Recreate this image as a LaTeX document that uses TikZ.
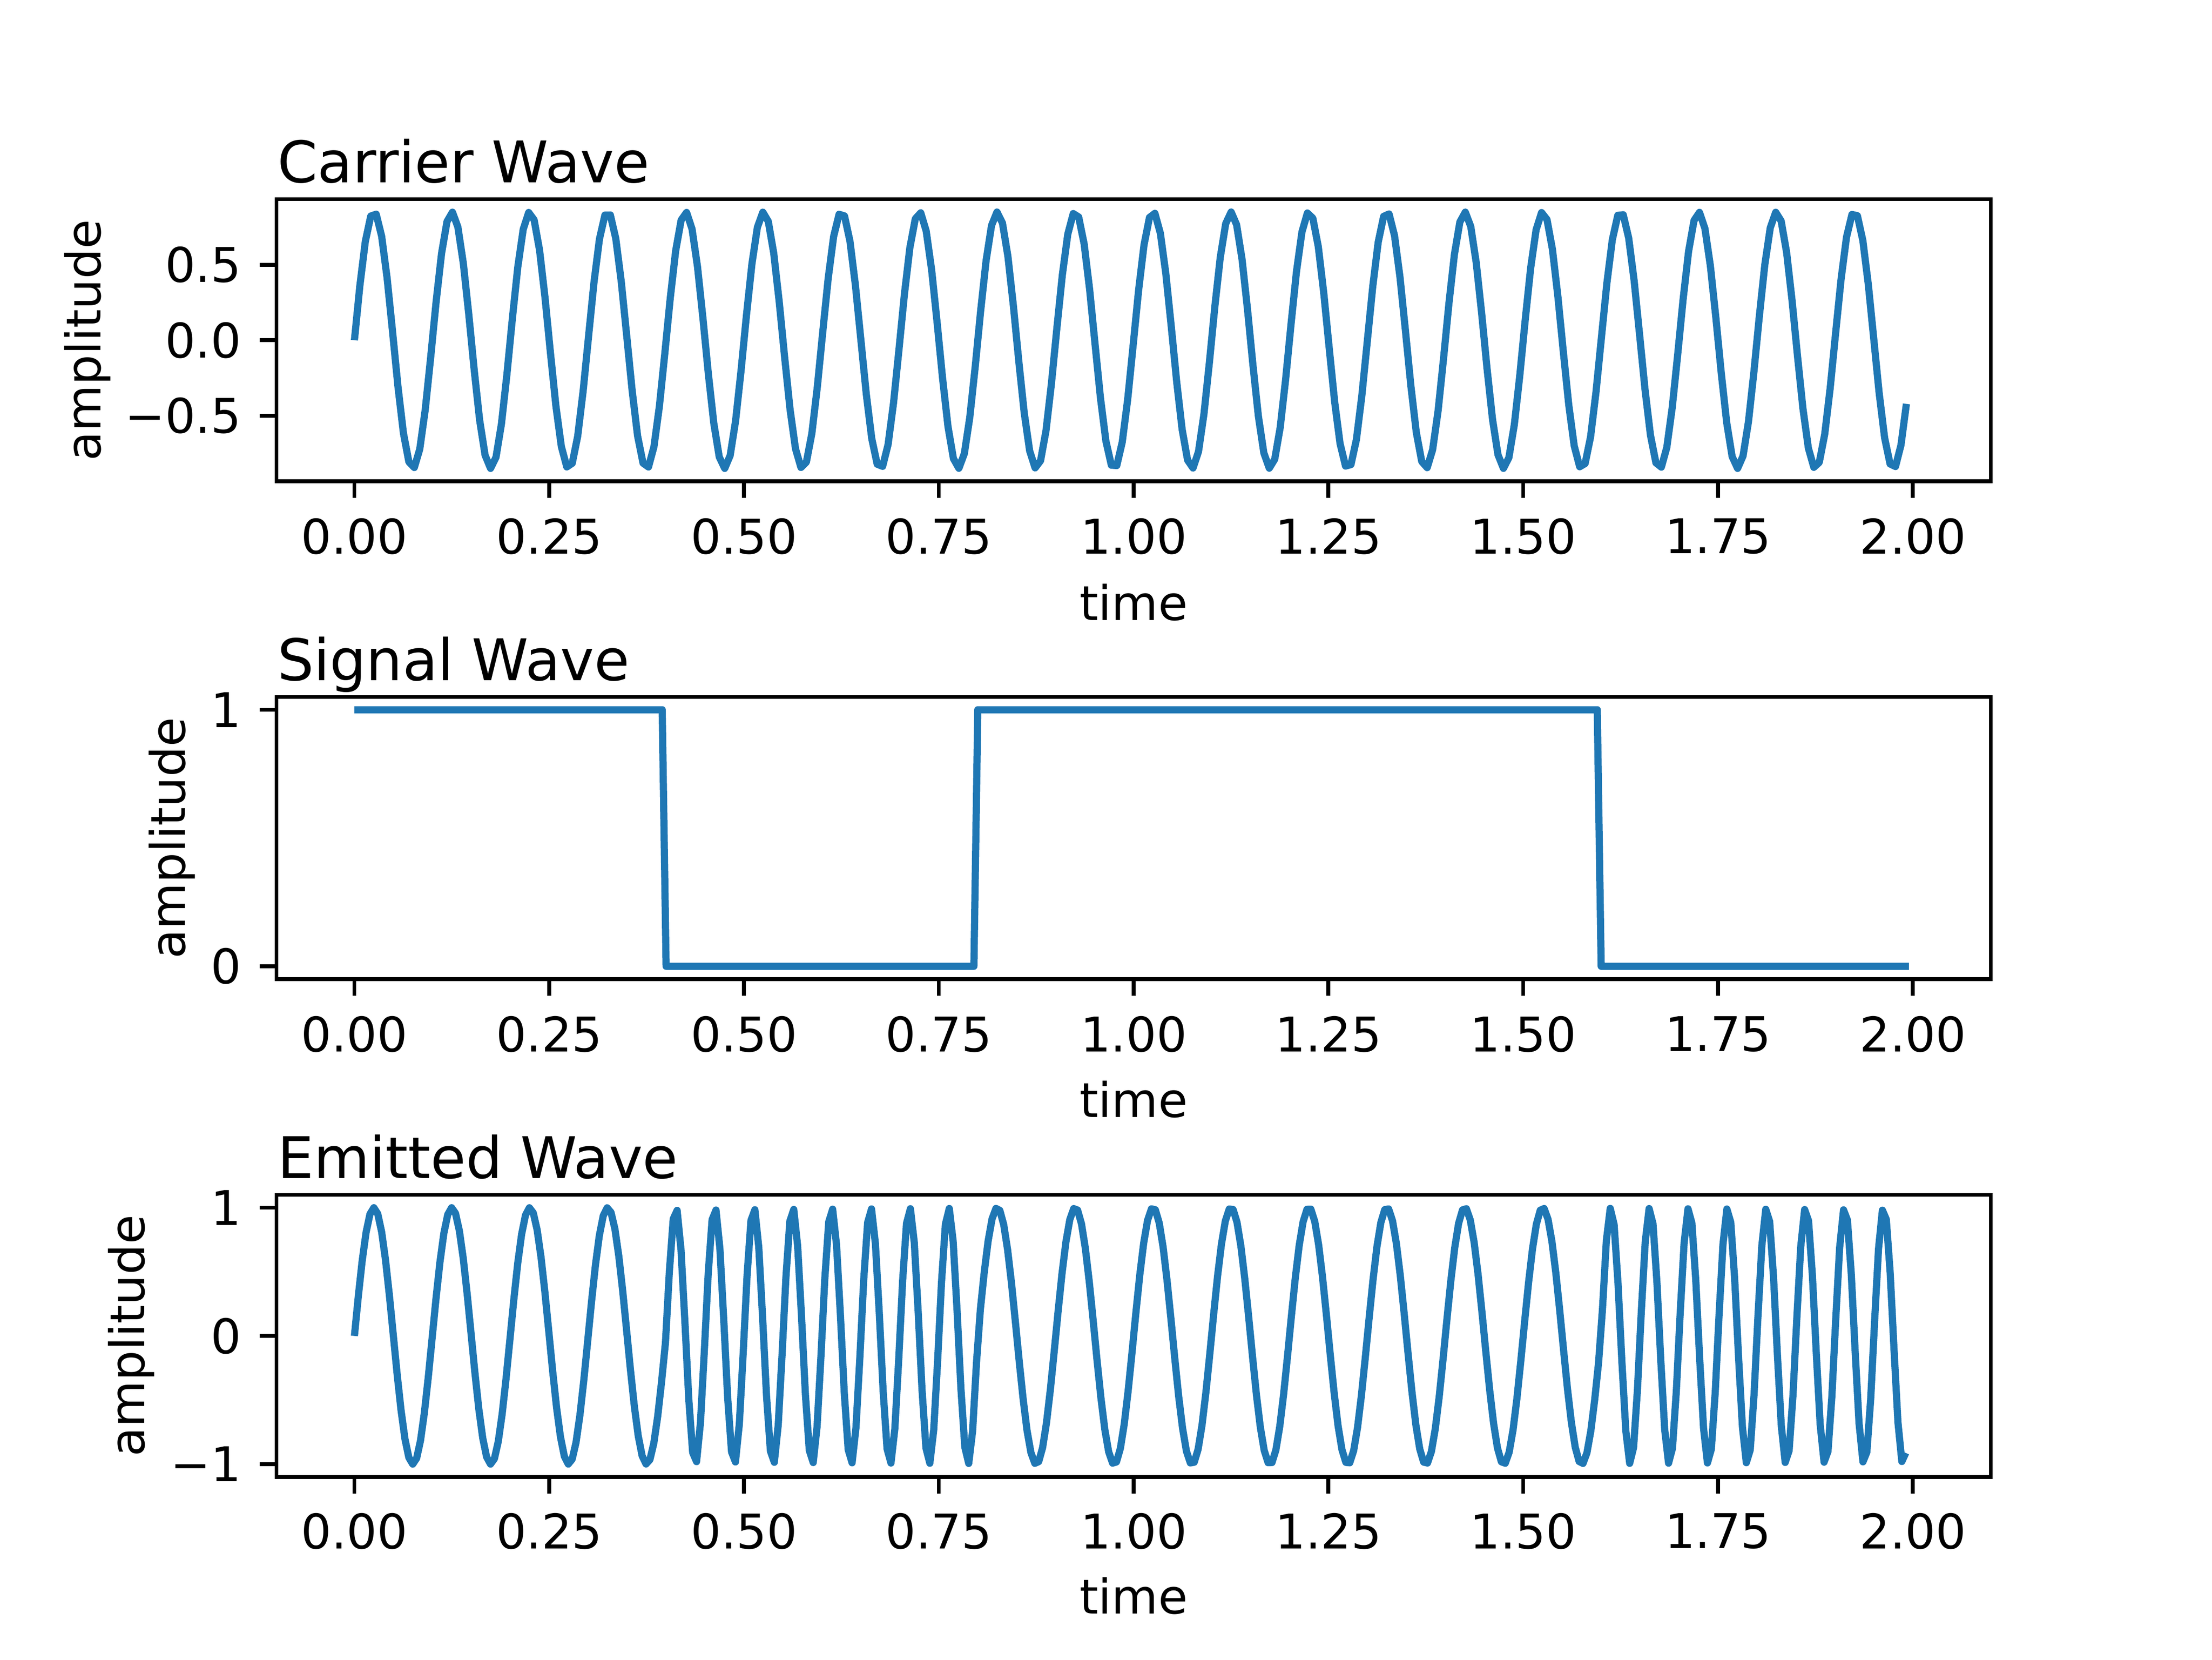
\documentclass[tikz,border=0pt]{standalone}
\usepackage{fontspec}
\setmainfont{DejaVu Sans}
\definecolor{mplblue}{HTML}{1F77B4}
\begin{document}
\begin{tikzpicture}[x=1cm,y=1cm,
  frame/.style={draw=black,line width=0.8pt},
  tickmark/.style={line width=0.8pt},
  curve/.style={draw=mplblue,line width=1.5pt,line join=round},
  ticklab/.style={font=\fontsize{10}{12}\selectfont,inner sep=0pt},
  axlab/.style={font=\fontsize{10}{12}\selectfont,inner sep=0pt},
  titlelab/.style={font=\fontsize{12}{14}\selectfont,inner sep=0pt,anchor=base west}]
\useasboundingbox (0,0) rectangle (16.256,12.192);
\def\xL{2.032}\def\xR{14.630}\def\xO{2.6046}\def\xs{5.7264}
% ---------- axes 1 ----------
\begin{scope}[shift={(\xO,9.6925)},x=\xs cm,y=1.1083cm]
  \draw[curve] plot[domain=0:1.995,samples=286] (\x,{0.85*sin(3600*\x)});
\end{scope}
\draw[frame] (\xL,8.656) rectangle (\xR,10.729);
\foreach \v/\l in {-0.5/−0.5,0/0.0,0.5/0.5}{
  \draw[tickmark] (\xL,9.6925+1.1083*\v) -- ++(-3.5pt,0)
    node[ticklab,anchor=east,xshift=-3.5pt] {\l};}
\node[titlelab] (t1) at (\xL,10.85) {Carrier Wave};
\node[axlab,rotate=90] (y1) at (0.643,9.6925) {amplitude};
% ---------- axes 2 ----------
\begin{scope}[shift={(\xO,5.0932)},x=\xs cm,y=1.8842cm]
  \draw[curve] (0,1)--(0.395,1)--(0.4,0)--(0.795,0)--(0.8,1)--(1.595,1)--(1.6,0)--(1.995,0);
\end{scope}
\draw[frame] (\xL,4.999) rectangle (\xR,7.071);
\foreach \v in {0,1}{
  \draw[tickmark] (\xL,5.0932+1.8842*\v) -- ++(-3.5pt,0)
    node[ticklab,anchor=east,xshift=-3.5pt] {\v};}
\node[titlelab] (t2) at (\xL,7.192) {Signal Wave};
\node[axlab,rotate=90] (y2) at (1.265,6.035) {amplitude};
% ---------- axes 3 ----------
\begin{scope}[shift={(\xO,2.3775)},x=\xs cm,y=0.9421cm]
  \draw[curve] plot[domain=0:1.995,samples=400] (\x,{sin(3600*\x*(1+(\x>=0.4)*(\x<0.8)+(\x>=1.6)))});
\end{scope}
\draw[frame] (\xL,1.341) rectangle (\xR,3.414);
\foreach \v/\l in {-1/−1,0/0,1/1}{
  \draw[tickmark] (\xL,2.3775+0.9421*\v) -- ++(-3.5pt,0)
    node[ticklab,anchor=east,xshift=-3.5pt] {\l};}
\node[titlelab] (t3) at (\xL,3.535) {Emitted Wave};
\node[axlab,rotate=90] (y3) at (0.964,2.3775) {amplitude};
% ---------- x ticks ----------
\foreach \yb/\yl/\yt in {8.656/8.252/7.765, 4.999/4.593/4.116, 1.341/0.943/0.467}{
  \foreach \t/\l in {0/0.00,0.25/0.25,0.5/0.50,0.75/0.75,1/1.00,1.25/1.25,1.5/1.50,1.75/1.75,2/2.00}{
    \draw[tickmark] (\xO+\xs*\t,\yb) -- ++(0,-3.5pt);
    \node[ticklab] at (\xO+\xs*\t,\yl) {\l};}
  \node[axlab] at (8.331,\yt) {time};}
\end{tikzpicture}
\end{document}
